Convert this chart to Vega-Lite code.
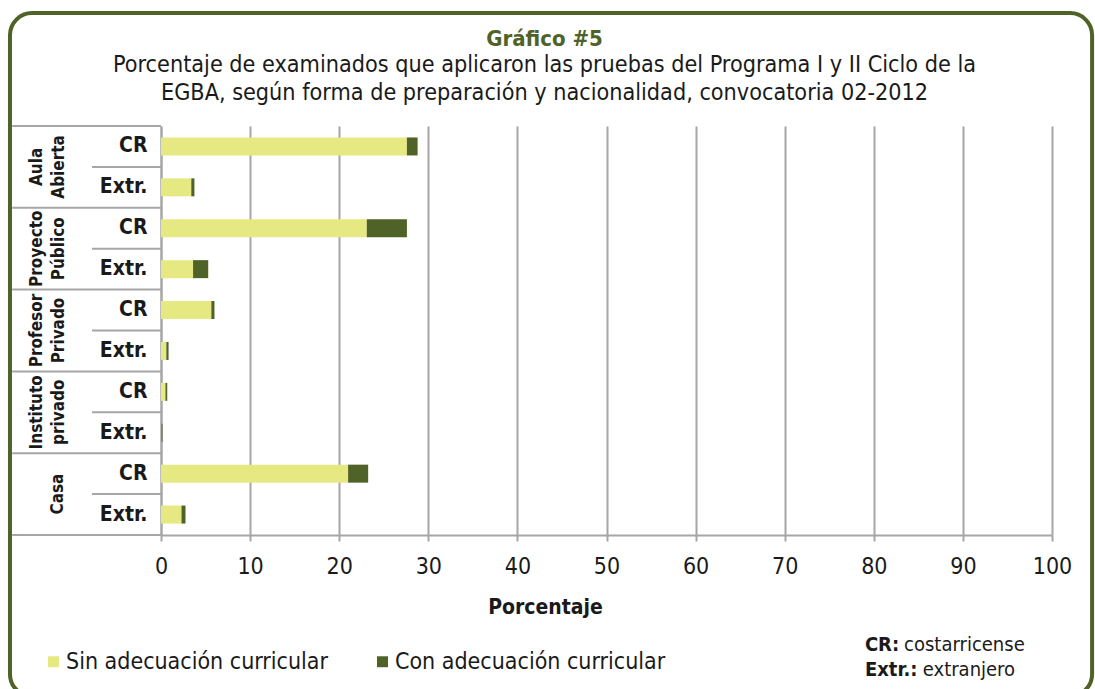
{
  "$schema": "https://vega.github.io/schema/vega-lite/v6.json",
  "width": 891,
  "height": 409,
  "autosize": {"type": "none"},
  "padding": {"left": 161, "top": 126, "right": 43, "bottom": 154},
  "background": "white",
  "config": {
    "font": "DejaVu Sans Condensed, sans-serif",
    "view": {"stroke": null}
  },
  "title": {
    "text": "Gráfico #5",
    "subtitle": ["Porcentaje de examinados que aplicaron las pruebas del Programa  I y II Ciclo de la", "EGBA, según forma de preparación y nacionalidad, convocatoria 02-2012"],
    "anchor": "middle",
    "frame": "group",
    "dx": -62,
    "offset": -94,
    "font": "DejaVu Sans Condensed, sans-serif",
    "fontSize": 22,
    "fontWeight": "bold",
    "color": "#4f6228",
    "subtitleFont": "DejaVu Sans Condensed, sans-serif",
    "subtitleFontSize": 23.2,
    "subtitleColor": "#1a1a1a",
    "subtitleLineHeight": 28,
    "subtitlePadding": 3
  },
  "datasets": {
    "barras": [
      {"fila": "Aula Abierta|CR", "tipo": "Sin adecuación curricular", "pct": 27.6},
      {"fila": "Aula Abierta|CR", "tipo": "Con adecuación curricular", "pct": 1.2},
      {"fila": "Aula Abierta|Extr.", "tipo": "Sin adecuación curricular", "pct": 3.4},
      {"fila": "Aula Abierta|Extr.", "tipo": "Con adecuación curricular", "pct": 0.35},
      {"fila": "Proyecto Público|CR", "tipo": "Sin adecuación curricular", "pct": 23.1},
      {"fila": "Proyecto Público|CR", "tipo": "Con adecuación curricular", "pct": 4.5},
      {"fila": "Proyecto Público|Extr.", "tipo": "Sin adecuación curricular", "pct": 3.6},
      {"fila": "Proyecto Público|Extr.", "tipo": "Con adecuación curricular", "pct": 1.7},
      {"fila": "Profesor Privado|CR", "tipo": "Sin adecuación curricular", "pct": 5.65},
      {"fila": "Profesor Privado|CR", "tipo": "Con adecuación curricular", "pct": 0.35},
      {"fila": "Profesor Privado|Extr.", "tipo": "Sin adecuación curricular", "pct": 0.6},
      {"fila": "Profesor Privado|Extr.", "tipo": "Con adecuación curricular", "pct": 0.25},
      {"fila": "Instituto privado|CR", "tipo": "Sin adecuación curricular", "pct": 0.5},
      {"fila": "Instituto privado|CR", "tipo": "Con adecuación curricular", "pct": 0.2},
      {"fila": "Instituto privado|Extr.", "tipo": "Sin adecuación curricular", "pct": 0.05},
      {"fila": "Instituto privado|Extr.", "tipo": "Con adecuación curricular", "pct": 0.12},
      {"fila": "Casa|CR", "tipo": "Sin adecuación curricular", "pct": 21.0},
      {"fila": "Casa|CR", "tipo": "Con adecuación curricular", "pct": 2.25},
      {"fila": "Casa|Extr.", "tipo": "Sin adecuación curricular", "pct": 2.3},
      {"fila": "Casa|Extr.", "tipo": "Con adecuación curricular", "pct": 0.45}
    ],
    "grupos": [
      {"grupo": "Aula Abierta", "etiqueta": "Aula\nAbierta", "cr": "Aula Abierta|CR", "extr": "Aula Abierta|Extr."},
      {"grupo": "Proyecto Público", "etiqueta": "Proyecto\nPúblico", "cr": "Proyecto Público|CR", "extr": "Proyecto Público|Extr."},
      {"grupo": "Profesor Privado", "etiqueta": "Profesor\nPrivado", "cr": "Profesor Privado|CR", "extr": "Profesor Privado|Extr."},
      {"grupo": "Instituto privado", "etiqueta": "Instituto\nprivado", "cr": "Instituto privado|CR", "extr": "Instituto privado|Extr."},
      {"grupo": "Casa", "etiqueta": "Casa", "cr": "Casa|CR", "extr": "Casa|Extr."}
    ]
  },
  "layer": [
    {
      "data": {"values": [{}]},
      "layer": [
        {
          "mark": {"type": "rect", "fillOpacity": 0, "stroke": "#4f6228", "strokeWidth": 4, "cornerRadius": 22},
          "encoding": {
            "x": {"datum": -16.95, "type": "quantitative", "scale": {"domain": [0, 100]}},
            "x2": {"datum": 104.5},
            "y": {"datum": -2.76, "type": "quantitative", "scale": {"domain": [0, 10], "reverse": true, "nice": false, "zero": false}, "axis": null},
            "y2": {"datum": 13.94}
          }
        },
        {
          "mark": {"type": "text", "text": "CR:", "align": "left", "baseline": "middle", "fontSize": 20, "fontWeight": "bold", "color": "#1a1a1a"},
          "encoding": {
            "x": {"datum": 79.0, "type": "quantitative", "scale": {"domain": [0, 100]}},
            "y": {"datum": 12.7, "type": "quantitative"}
          }
        },
        {
          "mark": {"type": "text", "text": "costarricense", "align": "left", "baseline": "middle", "fontSize": 20, "color": "#1a1a1a"},
          "encoding": {
            "x": {"datum": 83.4, "type": "quantitative", "scale": {"domain": [0, 100]}},
            "y": {"datum": 12.7, "type": "quantitative"}
          }
        },
        {
          "mark": {"type": "text", "text": "Extr.:", "align": "left", "baseline": "middle", "fontSize": 20, "fontWeight": "bold", "color": "#1a1a1a"},
          "encoding": {
            "x": {"datum": 79.0, "type": "quantitative", "scale": {"domain": [0, 100]}},
            "y": {"datum": 13.3, "type": "quantitative"}
          }
        },
        {
          "mark": {"type": "text", "text": "extranjero", "align": "left", "baseline": "middle", "fontSize": 20, "color": "#1a1a1a"},
          "encoding": {
            "x": {"datum": 85.5, "type": "quantitative", "scale": {"domain": [0, 100]}},
            "y": {"datum": 13.3, "type": "quantitative"}
          }
        }
      ]
    },
    {
      "layer": [
        {
          "data": {"name": "barras"},
          "mark": {"type": "bar", "height": {"band": 0.44}},
          "encoding": {
            "y": {
              "field": "fila", "type": "nominal",
              "scale": {"type": "band", "paddingInner": 0, "paddingOuter": 0, "domain": ["Aula Abierta|CR", "Aula Abierta|Extr.", "Proyecto Público|CR", "Proyecto Público|Extr.", "Profesor Privado|CR", "Profesor Privado|Extr.", "Instituto privado|CR", "Instituto privado|Extr.", "Casa|CR", "Casa|Extr."]},
              "axis": {"orient": "left", "title": null, "labelExpr": "split(datum.value, '|')[1]", "labelFontWeight": "bold", "labelFontSize": 21, "labelColor": "#1a1a1a", "labelPadding": 14, "ticks": false, "grid": false, "domainColor": "#a6a6a6", "domainWidth": 2}
            },
            "x": {
              "field": "pct", "type": "quantitative", "stack": "zero",
              "scale": {"domain": [0, 100]},
              "axis": {"title": "Porcentaje", "values": [0, 10, 20, 30, 40, 50, 60, 70, 80, 90, 100], "grid": true, "gridColor": "#a6a6a6", "gridWidth": 2, "tickColor": "#a6a6a6", "tickWidth": 2, "tickSize": 6, "domainColor": "#a6a6a6", "domainWidth": 2, "labelFontSize": 23, "labelColor": "#1a1a1a", "labelPadding": 14, "labelFlush": false, "titleFontSize": 21, "titleFontWeight": "bold", "titleColor": "#1a1a1a", "titlePadding": 18, "titleX": 384}
            },
            "color": {
              "field": "tipo", "type": "nominal",
              "sort": ["Sin adecuación curricular", "Con adecuación curricular"],
              "scale": {"domain": ["Sin adecuación curricular", "Con adecuación curricular"], "range": ["#e6e882", "#4f6228"]},
              "legend": {"title": null, "orient": "none", "legendX": -119, "legendY": 524, "direction": "horizontal", "symbolType": "square", "symbolSize": 120, "symbolStrokeWidth": 0, "labelFontSize": 23, "labelColor": "#1a1a1a", "labelOffset": 1, "labelLimit": 0, "columnPadding": 42}
            },
            "order": {"field": "tipo", "sort": "descending"}
          }
        },
        {
          "data": {"name": "grupos"},
          "mark": {"type": "rule", "color": "#a6a6a6", "strokeWidth": 2},
          "encoding": {
            "y": {"field": "cr", "type": "nominal", "bandPosition": 0},
            "x": {"datum": -16.7, "type": "quantitative", "scale": {"domain": [0, 100]}},
            "x2": {"datum": 0}
          }
        },
        {
          "data": {"name": "grupos"},
          "mark": {"type": "rule", "color": "#a6a6a6", "strokeWidth": 2},
          "encoding": {
            "y": {"field": "extr", "type": "nominal", "bandPosition": 0},
            "x": {"datum": -7.74, "type": "quantitative", "scale": {"domain": [0, 100]}},
            "x2": {"datum": 0}
          }
        },
        {
          "data": {"name": "grupos"},
          "transform": [{"filter": "datum.grupo == 'Casa'"}],
          "mark": {"type": "rule", "color": "#a6a6a6", "strokeWidth": 2},
          "encoding": {
            "y": {"field": "extr", "type": "nominal", "bandPosition": 1},
            "x": {"datum": -16.7, "type": "quantitative", "scale": {"domain": [0, 100]}},
            "x2": {"datum": 0}
          }
        },
        {
          "data": {"name": "grupos"},
          "transform": [{"filter": "datum.grupo != 'Casa'"}],
          "mark": {"type": "text", "angle": 270, "align": "center", "baseline": "middle", "lineBreak": "\n", "lineHeight": 22, "fontSize": 17, "fontWeight": "bold", "color": "#1a1a1a"},
          "encoding": {
            "y": {"field": "cr", "type": "nominal", "bandPosition": 1},
            "x": {"datum": -13.9, "type": "quantitative", "scale": {"domain": [0, 100]}},
            "text": {"field": "etiqueta"}
          }
        },
        {
          "data": {"name": "grupos"},
          "transform": [{"filter": "datum.grupo == 'Casa'"}],
          "mark": {"type": "text", "angle": 270, "align": "center", "baseline": "middle", "fontSize": 17, "fontWeight": "bold", "color": "#1a1a1a"},
          "encoding": {
            "y": {"field": "cr", "type": "nominal", "bandPosition": 1},
            "x": {"datum": -11.6, "type": "quantitative", "scale": {"domain": [0, 100]}},
            "text": {"field": "etiqueta"}
          }
        }
      ]
    }
  ],
  "resolve": {"scale": {"y": "independent"}}
}
